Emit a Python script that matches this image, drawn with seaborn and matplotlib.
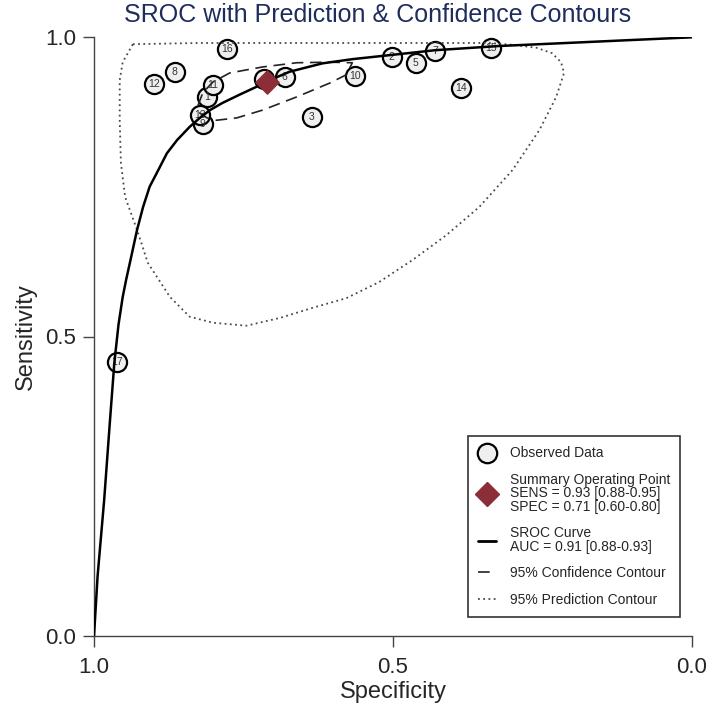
import matplotlib
matplotlib.use("Agg")
import matplotlib.pyplot as plt
from matplotlib.lines import Line2D
import seaborn as sns
import pandas as pd

# ---------------- data ----------------
study_ids = [str(i) for i in range(1, 18)]
study_spec = [0.811, 0.502, 0.636, 0.715, 0.462, 0.681, 0.429, 0.865, 0.818,
              0.563, 0.801, 0.900, 0.823, 0.386, 0.336, 0.778, 0.962]
study_sens = [0.900, 0.967, 0.866, 0.930, 0.957, 0.933, 0.977, 0.942, 0.855,
              0.935, 0.920, 0.922, 0.870, 0.915, 0.982, 0.980, 0.457]

summary_spec = [0.71]
summary_sens = [0.925]

sroc_spec = [1.000, 0.994, 0.983, 0.974, 0.966, 0.959, 0.952, 0.946, 0.940,
             0.928, 0.918, 0.907, 0.895, 0.878, 0.861, 0.840, 0.823, 0.806,
             0.785, 0.756, 0.728, 0.706, 0.673, 0.618, 0.568, 0.503, 0.429,
             0.322, 0.210, 0.100, 0.000]
sroc_sens = [0.000, 0.100, 0.227, 0.350, 0.456, 0.520, 0.566, 0.596, 0.623,
             0.678, 0.716, 0.750, 0.773, 0.806, 0.828, 0.850, 0.865, 0.878,
             0.890, 0.904, 0.917, 0.928, 0.942, 0.956, 0.963, 0.970, 0.978,
             0.985, 0.990, 0.995, 0.9995]

conf_spec = [0.826, 0.818, 0.801, 0.773, 0.718, 0.661, 0.606, 0.568, 0.578,
             0.606, 0.661, 0.718, 0.761, 0.795, 0.811, 0.823, 0.826]
conf_sens = [0.886, 0.907, 0.925, 0.940, 0.950, 0.957, 0.958, 0.957, 0.937,
             0.923, 0.900, 0.878, 0.865, 0.861, 0.865, 0.873, 0.886]

pred_spec = [0.935, 0.823, 0.656, 0.489, 0.339, 0.300, 0.260, 0.234, 0.219,
             0.214, 0.227, 0.255, 0.300, 0.356, 0.411, 0.467, 0.523, 0.578,
             0.634, 0.689, 0.745, 0.801, 0.840, 0.873, 0.910, 0.928, 0.948,
             0.955, 0.957, 0.957, 0.952, 0.935]
pred_sens = [0.988, 0.990, 0.990, 0.990, 0.990, 0.987, 0.982, 0.973, 0.958,
             0.940, 0.900, 0.845, 0.778, 0.716, 0.669, 0.628, 0.591, 0.564,
             0.548, 0.531, 0.518, 0.523, 0.533, 0.566, 0.623, 0.678, 0.733,
             0.790, 0.861, 0.928, 0.958, 0.988]

x_ticks = [1.0, 0.5, 0.0]
y_ticks = [0.0, 0.5, 1.0]
x_ticklabels = ["1.0", "0.5", "0.0"]
y_ticklabels = ["0.0", "0.5", "1.0"]

title = "SROC with Prediction & Confidence Contours"
legend_labels = [
    "Observed Data",
    "Summary Operating Point\nSENS = 0.93 [0.88-0.95]\nSPEC = 0.71 [0.60-0.80]",
    "SROC Curve\nAUC = 0.91 [0.88-0.93]",
    "95% Confidence Contour",
    "95% Prediction Contour",
]

# ---------------- styling ----------------
sns.set_style("white")
plt.rcParams["font.family"] = ["Liberation Sans", "DejaVu Sans"]

DIAMOND = "#8B2E38"
DOT_DASH = (1.0, 1.9)
DASH = (7.0, 4.0)

fig = plt.figure(figsize=(7.09, 7.10), dpi=100)
ax = fig.add_axes([94 / 709, 1 - 636 / 710, 598 / 709, 599 / 710])

df_obs = pd.DataFrame({"spec": study_spec, "sens": study_sens, "id": study_ids})
df_sroc = pd.DataFrame({"spec": sroc_spec, "sens": sroc_sens})
df_conf = pd.DataFrame({"spec": conf_spec, "sens": conf_sens})
df_pred = pd.DataFrame({"spec": pred_spec, "sens": pred_sens})

sns.scatterplot(data=df_obs, x="spec", y="sens", ax=ax, s=190, color="#EFEFEF",
                edgecolor="black", linewidth=1.6, zorder=2, legend=False)
for sp, se, lab in zip(study_spec, study_sens, study_ids):
    ax.text(sp, se, lab, ha="center", va="center", fontsize=7.5, color="#333333",
            zorder=3)

sns.lineplot(data=df_pred, x="spec", y="sens", ax=ax, sort=False, estimator=None,
             color="#4A4A4A", lw=1.3, zorder=4)
ax.lines[-1].set_dashes(DOT_DASH)
sns.lineplot(data=df_conf, x="spec", y="sens", ax=ax, sort=False, estimator=None,
             color="#222222", lw=1.2, zorder=4)
ax.lines[-1].set_dashes(DASH)
sns.lineplot(data=df_sroc, x="spec", y="sens", ax=ax, sort=False, estimator=None,
             color="black", lw=1.8, zorder=5)
ax.lines[-1].set_solid_joinstyle("round")

ax.scatter(summary_spec, summary_sens, marker="D", s=140, color=DIAMOND,
           edgecolor=DIAMOND, zorder=6)

ax.set_xlim(1.0, 0.0)
ax.set_ylim(0.0, 1.0)
ax.set_xticks(x_ticks)
ax.set_xticklabels(x_ticklabels)
ax.set_yticks(y_ticks)
ax.set_yticklabels(y_ticklabels)
ax.tick_params(axis="both", direction="out", length=8, width=1.0,
               color="#444444", labelsize=16, pad=5, bottom=True, left=True)
ax.tick_params(axis="x", pad=7)
for side in ("top", "right"):
    ax.spines[side].set_visible(False)
for side in ("left", "bottom"):
    ax.spines[side].set_color("#444444")
    ax.spines[side].set_linewidth(1.0)
ax.set_xlabel("Specificity", fontsize=17, labelpad=2)
ax.set_ylabel("Sensitivity", fontsize=17, labelpad=6)

fig.text(378 / 709, 1 - 15 / 710, title, ha="center", va="center",
         fontsize=18, color="#1F2D5C")

h_obs = Line2D([], [], ls="none", marker="o", markersize=14, mfc="#EFEFEF",
               mec="black", mew=1.6)
h_sum = Line2D([], [], ls="none", marker="D", markersize=12, mfc=DIAMOND,
               mec=DIAMOND)
h_sroc = Line2D([], [], color="black", lw=2.0)
h_conf = Line2D([], [], color="#222222", lw=1.2, dashes=DASH)
h_pred = Line2D([], [], color="#4A4A4A", lw=1.3, dashes=DOT_DASH)
leg = ax.legend([h_obs, h_sum, h_sroc, h_conf, h_pred], legend_labels,
                loc="upper left", bbox_to_anchor=((468 - 94) / 598, (636 - 436) / 599),
                borderaxespad=0, fontsize=10, frameon=True, fancybox=False,
                edgecolor="black", handlelength=1.3, handletextpad=0.95,
                borderpad=0.75, labelspacing=0.9)
leg.get_frame().set_linewidth(1.2)
for t in leg.get_texts():
    t.set_linespacing(0.95)

fig.savefig("out.png", dpi=100)
